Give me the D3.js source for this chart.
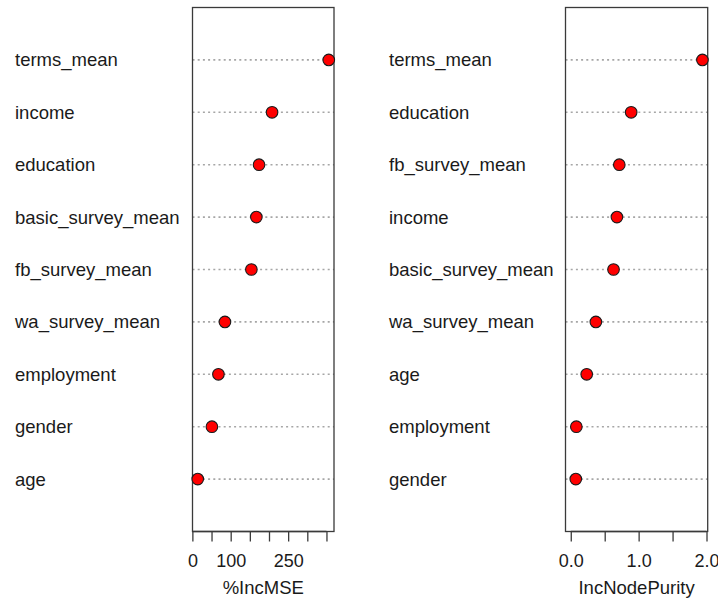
<!DOCTYPE html>
<html>
<head>
<meta charset="utf-8">
<script src="https://cdn.jsdelivr.net/npm/d3@7"></script>
<style>
  html, body { margin: 0; padding: 0; background: #fff; }
  svg { display: block; }
  text { font-family: "Liberation Sans", Arial, Helvetica, sans-serif; fill: #1a1a1a; }
</style>
</head>
<body>
<svg id="chart" width="718" height="598"></svg>
<script>
// Left panel: %IncMSE (top to bottom order as drawn)
const mseVars   = ["terms_mean", "income", "education", "basic_survey_mean", "fb_survey_mean",
                   "wa_survey_mean", "employment", "gender", "age"];
const mseValues = [356, 208, 174, 167, 154, 85, 68, 51, 14];
const mseTicks  = [0, 50, 100, 150, 200, 250, 300, 350];
const mseTickLabels = [0, 100, 250];

// Right panel: IncNodePurity (top to bottom order as drawn)
const purVars   = ["terms_mean", "education", "fb_survey_mean", "income", "basic_survey_mean",
                   "wa_survey_mean", "age", "employment", "gender"];
const purValues = [1.94, 0.89, 0.715, 0.68, 0.63, 0.37, 0.235, 0.082, 0.074];
const purTicks  = [0, 0.5, 1.0, 1.5, 2.0];
const purTickLabels = [0, 1.0, 2.0];

const svg = d3.select("#chart");

function panel(opts) {
  const { vars, values, ticks, tickLabels, fmt, xmin, x0, x1, labelX, title } = opts;
  const n = vars.length;
  const xmax = d3.max(values);
  const r = xmax - xmin;
  const x = d3.scaleLinear().domain([xmin - 0.04 * r, xmax + 0.04 * r]).range([x0, x1]);
  const y = d3.scaleLinear().domain([0, n + 1]).range([531.5, 7.5]);
  const g = svg.append("g");
  const rows = vars.map((v, i) => ({ name: v, value: values[i], pos: n - i }));

  // dotted guide lines
  g.selectAll("line.guide").data(rows).enter().append("line")
    .attr("class", "guide")
    .attr("x1", x0).attr("x2", x1)
    .attr("y1", d => y(d.pos)).attr("y2", d => y(d.pos))
    .attr("stroke", "#a6a6a6").attr("stroke-width", 1.6)
    .attr("stroke-dasharray", "2,3.2");

  // labels
  g.selectAll("text.lab").data(rows).enter().append("text")
    .attr("class", "lab")
    .attr("x", labelX).attr("y", d => y(d.pos) + 6.5)
    .attr("font-size", "18.5px")
    .text(d => d.name);

  // box
  g.append("rect")
    .attr("x", x0).attr("y", y(n + 1))
    .attr("width", x1 - x0).attr("height", y(0) - y(n + 1))
    .attr("fill", "none").attr("stroke", "#3a3a3a").attr("stroke-width", 1.3);

  // points
  g.selectAll("circle").data(rows).enter().append("circle")
    .attr("cx", d => x(d.value)).attr("cy", d => y(d.pos)).attr("r", 5.8)
    .attr("fill", "#ff0000").attr("stroke", "#1a1a1a").attr("stroke-width", 1.1);

  // axis
  const axis = d3.axisBottom(x).tickValues(ticks).tickSize(10).tickPadding(16)
    .tickFormat(d => tickLabels.some(t => Math.abs(t - d) < 1e-9) ? fmt(d) : "");
  const ax = g.append("g").attr("transform", `translate(0,${y(0)})`).call(axis);
  ax.select(".domain").attr("stroke", "#3a3a3a").attr("stroke-width", 1.3)
    .attr("d", `M${x(ticks[0])},0H${x(ticks[ticks.length - 1])}`);
  ax.selectAll(".tick line").attr("stroke", "#3a3a3a").attr("stroke-width", 1.3);
  ax.selectAll(".tick text").attr("font-size", "18px").attr("fill", "#1a1a1a")
    .attr("font-family", "Liberation Sans, Arial, sans-serif").attr("dy", "0.55em");

  // axis title
  g.append("text")
    .attr("x", (x0 + x1) / 2).attr("y", 594)
    .attr("text-anchor", "middle").attr("font-size", "18.5px")
    .text(title);
}

panel({ vars: mseVars, values: mseValues, ticks: mseTicks, tickLabels: mseTickLabels,
        fmt: d3.format("d"), xmin: d3.min(mseValues), x0: 192.5, x1: 334, labelX: 15,
        title: "%IncMSE" });
panel({ vars: purVars, values: purValues, ticks: purTicks, tickLabels: purTickLabels,
        fmt: d3.format(".1f"), xmin: 0, x0: 565.5, x1: 707.7, labelX: 389,
        title: "IncNodePurity" });
</script>
</body>
</html>
